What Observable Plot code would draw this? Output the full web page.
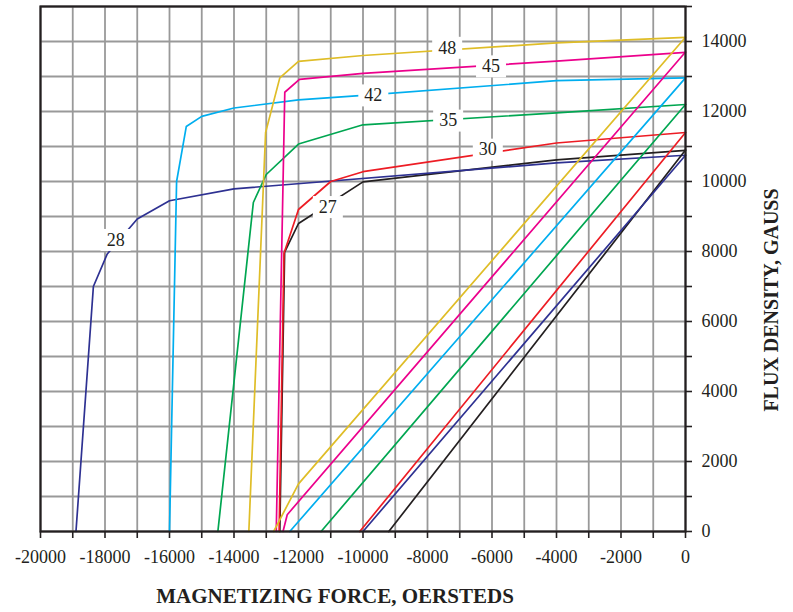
<!DOCTYPE html>
<html>
<head>
<meta charset="utf-8">
<script src="https://cdn.jsdelivr.net/npm/d3@7"></script>
<script src="https://cdn.jsdelivr.net/npm/@observablehq/plot@0.6"></script>
<style>
  html, body { margin: 0; padding: 0; background: #fff; }
</style>
</head>
<body>
<div id="chart"></div>
<script>
// Grades and colours
const grades = ["27", "28", "30", "35", "42", "45", "48"];
const gradeColors = ["#231f20", "#2e3192", "#ed1c24", "#00a651", "#00aeef", "#ec008c", "#dfbd27"];

// Intrinsic curves: [H (Oe), B (G)]
const intr27 = [[-12580, 0], [-12430, 7980], [-12000, 8800], [-10000, 9990], [-4000, 10620], [0, 10890]];
const intr28 = [[-18900, 0], [-18360, 7000], [-17930, 7930], [-17000, 8930], [-16000, 9450], [-14000, 9790], [-4000, 10530], [0, 10750]];
const intr30 = [[-12600, 0], [-12450, 7950], [-12000, 9200], [-11000, 10000], [-10000, 10280], [-4000, 11100], [0, 11400]];
const intr35 = [[-14500, 0], [-13400, 9400], [-13000, 10200], [-12000, 11070], [-10000, 11620], [-4000, 11960], [0, 12200]];
const intr42 = [[-16000, 0], [-15780, 10000], [-15480, 11570], [-15000, 11860], [-14000, 12100], [-12000, 12330], [-10000, 12460], [-4000, 12880], [0, 12960]];
const intr45 = [[-12690, 0], [-12425, 12550], [-11970, 12920], [-10000, 13090], [-4000, 13440], [0, 13690]];
const intr48 = [[-13540, 0], [-13020, 11400], [-12580, 12960], [-12000, 13430], [-10000, 13600], [-4000, 13960], [0, 14120]];

// Normal curves: [H (Oe), B (G)]
const norm27 = [[-9200, 0], [0, 10900]];
const norm28 = [[-10000, 0], [0, 10750]];
const norm30 = [[-10100, 0], [0, 11400]];
const norm35 = [[-11300, 0], [0, 12200]];
const norm42 = [[-12270, 0], [0, 12960]];
const norm45 = [[-12480, 0], [-12350, 480], [0, 13700]];
const norm48 = [[-12770, 0], [-12000, 1360], [0, 14120]];

// Curve labels
const labelText = ["48", "45", "42", "35", "30", "27", "28"];
const labelH = [-7390, -6030, -9680, -7360, -6130, -11090, -17670];
const labelB = [13820, 13290, 12460, 11740, 10910, 9270, 8330];

// Ticks
const xTicks = d3.range(-20000, 1, 1000);
const yTicks = d3.range(0, 15001, 1000);

const curveList = [
  ["27", "i", intr27], ["28", "i", intr28], ["30", "i", intr30], ["35", "i", intr35],
  ["42", "i", intr42], ["45", "i", intr45], ["48", "i", intr48],
  ["27", "n", norm27], ["28", "n", norm28], ["30", "n", norm30], ["35", "n", norm35],
  ["42", "n", norm42], ["45", "n", norm45], ["48", "n", norm48]
];
const rows = curveList.flatMap(([g, k, pts]) => pts.map(([h, b]) => ({grade: g, curve: g + k, H: h, B: b})));
const labels = labelText.map((t, i) => ({text: t, H: labelH[i], B: labelB[i]}));

const boxSymbol = {draw(context) { context.rect(-15, -11, 30, 22); }};
const fmt = d => (d % 2000 === 0 ? String(d) : "");

const chart = Plot.plot({
  width: 793,
  height: 612,
  marginLeft: 40,
  marginRight: 108,
  marginTop: 6,
  marginBottom: 81,
  style: {fontFamily: "'Liberation Serif', 'Times New Roman', serif", fontSize: "18px", color: "#231f20", background: "#fff"},
  x: {domain: [-20000, 0]},
  y: {domain: [0, 15000]},
  color: {domain: grades, range: gradeColors},
  marks: [
    Plot.gridX(xTicks, {stroke: "#999", strokeOpacity: 1, strokeWidth: 1.8}),
    Plot.gridY(yTicks, {stroke: "#999", strokeOpacity: 1, strokeWidth: 1.8}),
    Plot.line(rows, {x: "H", y: "B", z: "curve", stroke: "grade", strokeWidth: 1.7}),
    Plot.dot(labels, {x: "H", y: "B", symbol: boxSymbol, r: 10, fill: "white", stroke: null}),
    Plot.text(labels, {x: "H", y: "B", text: "text", fontSize: 18, fill: "#231f20"}),
    Plot.frame({stroke: "#231f20", strokeWidth: 2.2}),
    Plot.axisX(xTicks, {tickFormat: fmt, tickSize: 7, tickPadding: 12, strokeWidth: 1.6, label: null}),
    Plot.axisY(yTicks, {anchor: "right", tickFormat: fmt, tickSize: 6, tickPadding: 10, strokeWidth: 1.6, label: null}),
    Plot.text(["MAGNETIZING FORCE, OERSTEDS"], {text: d => d, frameAnchor: "bottom", textAnchor: "middle", lineAnchor: "middle", dx: -28, dy: 65, fontWeight: "bold", fontSize: 21}),
    Plot.text(["FLUX DENSITY, GAUSS"], {text: d => d, frameAnchor: "right", textAnchor: "middle", lineAnchor: "middle", rotate: -90, dx: 86, dy: 31, fontWeight: "bold", fontSize: 20})
  ]
});
document.getElementById("chart").appendChild(chart);
</script>
</body>
</html>
